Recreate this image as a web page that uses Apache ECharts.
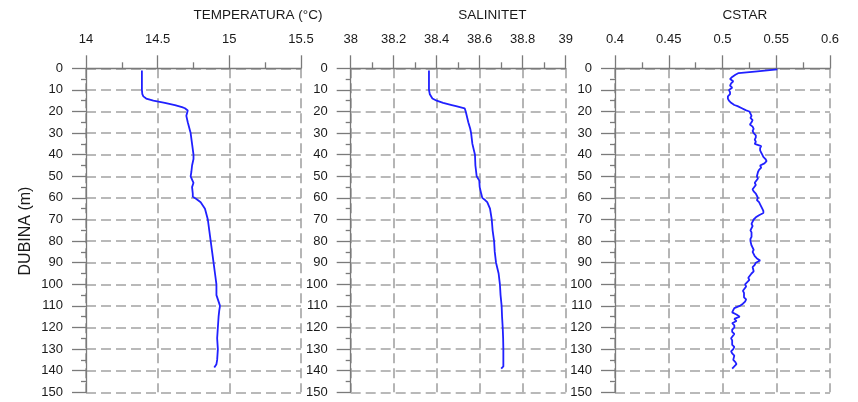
<!DOCTYPE html>
<html>
<head>
<meta charset="utf-8">
<script src="https://cdn.jsdelivr.net/npm/echarts@6/dist/echarts.min.js"></script>
<style>html,body{margin:0;padding:0;background:#fff;}#c{width:858px;height:402px;}</style>
</head>
<body>
<div id="c"></div>
<script>
// ---- Data ----
const panelTitles = ['TEMPERATURA (°C)', 'SALINITET', 'CSTAR'];
const yAxisTitle = 'DUBINA (m)';

const tempDepth = [1, 5, 10, 12, 13, 14, 15, 16, 17, 18, 18.5, 19.5, 20, 22, 25, 30, 35, 40, 42, 45, 48, 50, 53, 55, 58, 59.5, 60.5, 62, 65, 70, 75, 80, 85, 90, 95, 100, 105, 110, 112, 115, 120, 125, 130, 135, 137, 138.5];
const tempValue = [14.39, 14.39, 14.39, 14.393, 14.40, 14.42, 14.47, 14.55, 14.62, 14.67, 14.69, 14.71, 14.71, 14.70, 14.71, 14.73, 14.74, 14.75, 14.75, 14.74, 14.735, 14.73, 14.75, 14.74, 14.745, 14.745, 14.77, 14.80, 14.83, 14.85, 14.86, 14.87, 14.88, 14.89, 14.90, 14.91, 14.91, 14.935, 14.93, 14.925, 14.92, 14.915, 14.92, 14.915, 14.91, 14.895];

const salDepth = [1, 5, 10, 12, 14, 15, 16, 17, 17.5, 18.5, 20, 25, 28, 30, 35, 40, 45, 50, 52, 55, 58, 60, 61, 62, 65, 70, 75, 80, 85, 90, 95, 100, 105, 110, 115, 120, 125, 130, 135, 138, 139];
const salValue = [38.364, 38.364, 38.364, 38.368, 38.38, 38.40, 38.43, 38.47, 38.49, 38.53, 38.535, 38.547, 38.556, 38.56, 38.566, 38.578, 38.58, 38.586, 38.598, 38.60, 38.607, 38.612, 38.625, 38.635, 38.648, 38.656, 38.66, 38.667, 38.67, 38.676, 38.688, 38.694, 38.697, 38.702, 38.704, 38.707, 38.709, 38.71, 38.71, 38.71, 38.70];

const cstarDepth = [0.5, 1.5, 2.2, 3, 4, 5, 6, 7, 8, 9, 10, 11, 12, 13, 14, 15, 16, 17, 17.5, 18.5, 19.5, 20, 21, 22, 23, 24, 25, 26, 27, 28, 29, 30, 31, 32, 33, 34, 35, 36, 37, 38, 39, 40, 41, 42, 43, 44, 45, 46, 47, 48, 50, 51, 53, 54, 56, 57, 58, 59, 60, 61, 62, 63, 65, 66, 67, 68, 69, 70, 72, 73, 75, 76, 78, 79, 80, 82, 84, 85, 87, 88, 89, 90, 91, 92, 94, 95, 97, 98, 100, 101, 103, 104, 106, 107, 108, 109, 110, 111, 112, 113, 114, 115, 116, 117, 118, 119, 120, 121, 122, 123, 125, 126, 128, 129, 130, 131, 132, 133, 135, 136, 137, 138, 139];
const cstarValue = [0.551, 0.530, 0.515, 0.512, 0.509, 0.507, 0.510, 0.508, 0.507, 0.509, 0.506, 0.507, 0.507, 0.505, 0.505, 0.506, 0.508, 0.511, 0.514, 0.518, 0.522, 0.525, 0.526, 0.527, 0.526, 0.528, 0.527, 0.5255, 0.528, 0.529, 0.528, 0.529, 0.531, 0.531, 0.530, 0.531, 0.530, 0.536, 0.535, 0.535, 0.536, 0.537, 0.538, 0.540, 0.541, 0.539, 0.535, 0.536, 0.534, 0.533, 0.532, 0.533, 0.530, 0.531, 0.528, 0.529, 0.531, 0.532, 0.533, 0.532, 0.534, 0.535, 0.537, 0.538, 0.538, 0.534, 0.531, 0.529, 0.527, 0.528, 0.526, 0.527, 0.527, 0.526, 0.526, 0.527, 0.529, 0.528, 0.530, 0.532, 0.535, 0.531, 0.530, 0.528, 0.529, 0.527, 0.524, 0.525, 0.521, 0.522, 0.519, 0.520, 0.520, 0.522, 0.521, 0.519, 0.516, 0.511, 0.510, 0.509, 0.513, 0.516, 0.511, 0.513, 0.509, 0.511, 0.511, 0.509, 0.509, 0.511, 0.508, 0.509, 0.509, 0.511, 0.510, 0.508, 0.509, 0.511, 0.510, 0.512, 0.513, 0.511, 0.509];

const xMins = [14, 38, 0.4];
const xMaxs = [15.5, 39, 0.6];
const xIntervals = [0.5, 0.2, 0.05];
const depthMin = 0, depthMax = 150, depthInterval = 10;

// ---- Layout/style ----
const gridLefts = [86, 350.7, 615];
const gridWidth = 215;
const gridTop = 68.3;
const gridHeight = 324;
const axisColor = '#7a7a7a';
const gridColor = '#a3a3a3';
const lineColor = '#2020ff';
const font = 'Liberation Sans, Arial, sans-serif';

const series = [[tempDepth, tempValue], [salDepth, salValue], [cstarDepth, cstarValue]];

const chart = echarts.init(document.getElementById('c'), null, {renderer: 'canvas'});
const grids = [], xAxes = [], yAxes = [], seriesOpt = [], graphics = [];
for (let i = 0; i < 3; i++) {
  grids.push({left: gridLefts[i], top: gridTop, width: gridWidth, height: gridHeight, containLabel: false});
  xAxes.push({
    gridIndex: i, type: 'value', position: 'top',
    min: xMins[i], max: xMaxs[i], interval: xIntervals[i],
    axisLine: {show: true, onZero: false, lineStyle: {color: axisColor, width: 1.3}},
    axisTick: {show: true, length: 13, lineStyle: {color: axisColor, width: 1.3}},
    minorTick: {show: true, splitNumber: 2, length: 6, lineStyle: {color: axisColor, width: 1.3}},
    axisLabel: {margin: 22, color: '#1a1a1a', fontSize: 13, fontFamily: font,
      formatter: v => String(parseFloat(v.toFixed(3)))},
    splitLine: {show: true, lineStyle: {type: [10, 5], color: gridColor, width: 1.6}},
    minorSplitLine: {show: false}
  });
  yAxes.push({
    gridIndex: i, type: 'value', inverse: true,
    min: depthMin, max: depthMax, interval: depthInterval,
    axisLine: {show: true, onZero: false, lineStyle: {color: axisColor, width: 1.3}},
    axisTick: {show: true, length: 14, lineStyle: {color: axisColor, width: 1.3}},
    minorTick: {show: true, splitNumber: 2, length: 5, lineStyle: {color: axisColor, width: 1.3}},
    axisLabel: {margin: 23, color: '#1a1a1a', fontSize: 13, fontFamily: font},
    splitLine: {show: true, lineStyle: {type: [10, 5], color: gridColor, width: 1.6}}
  });
  const d = series[i][0], v = series[i][1];
  seriesOpt.push({
    type: 'line', xAxisIndex: i, yAxisIndex: i, showSymbol: false, symbol: 'none',
    smooth: false, clip: false,
    lineStyle: {color: lineColor, width: 1.8},
    data: d.map((dep, k) => [v[k], dep])
  });
  graphics.push({
    type: 'text', left: gridLefts[i] + gridWidth / 2, top: 8,
    style: {text: panelTitles[i], fill: '#1a1a1a', font: '13.5px ' + font, textAlign: 'center'}
  });
}
graphics.push({
  type: 'text', x: 18, y: 231, rotation: Math.PI / 2,
  style: {text: yAxisTitle, fill: '#1a1a1a', font: '16px ' + font, textAlign: 'center', textVerticalAlign: 'top'}
});

chart.setOption({
  animation: false,
  backgroundColor: '#fff',
  grid: grids, xAxis: xAxes, yAxis: yAxes, series: seriesOpt,
  graphic: graphics
});
</script>
</body>
</html>
